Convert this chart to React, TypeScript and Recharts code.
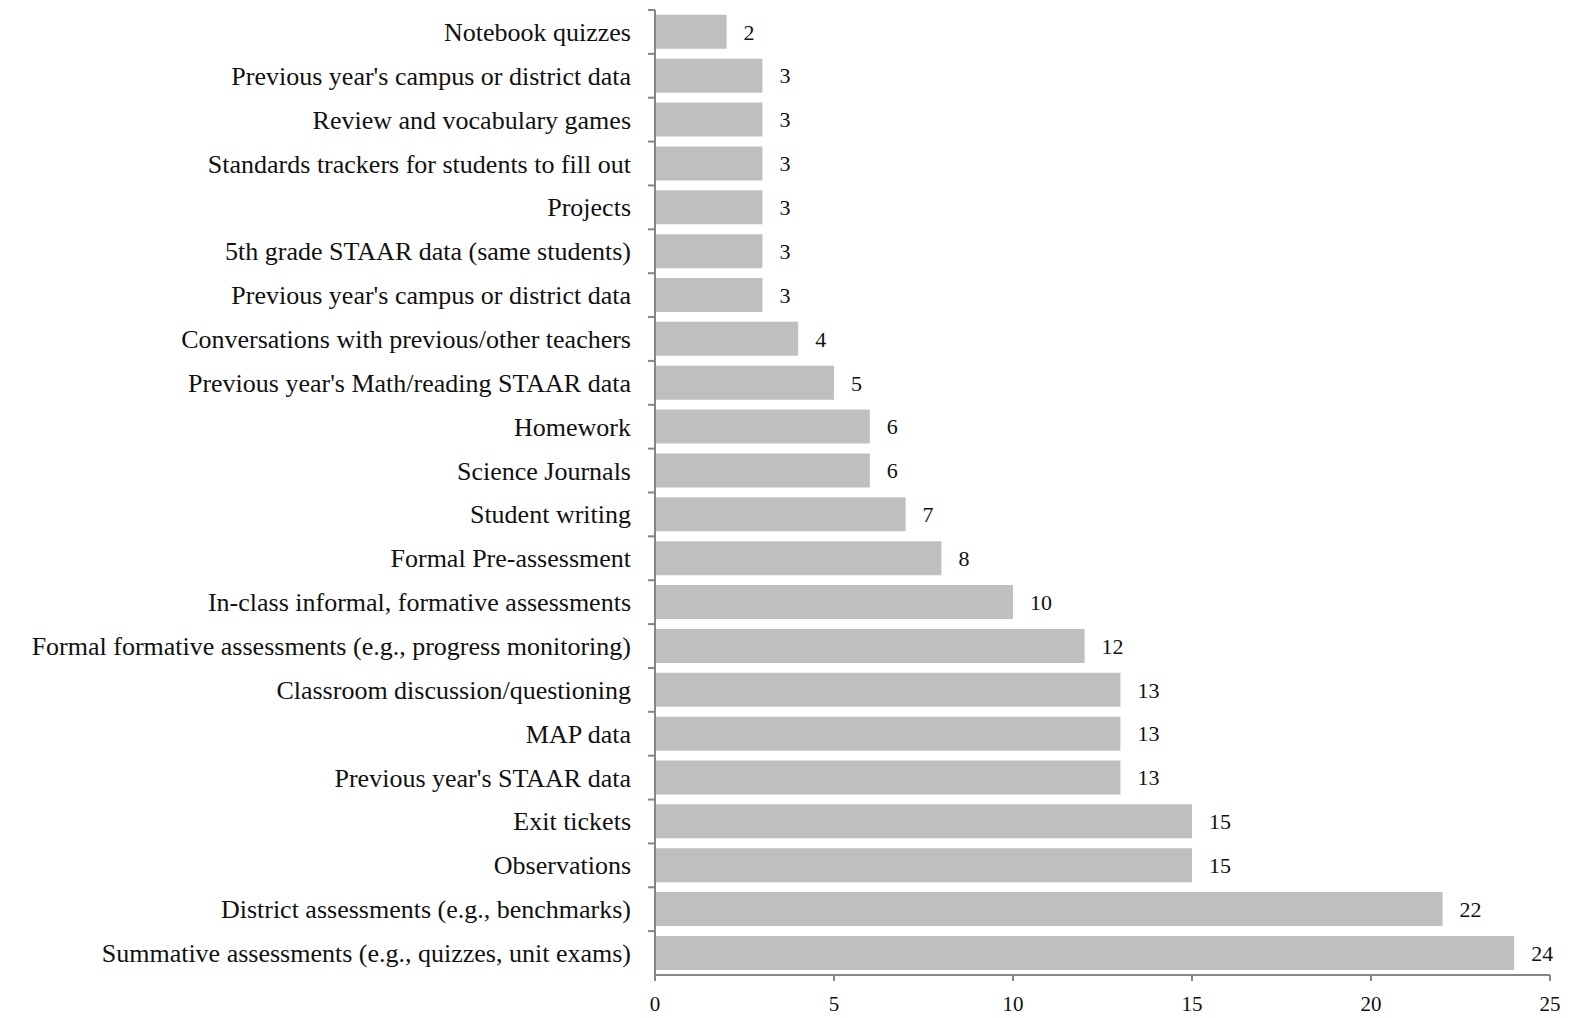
import React from "react";
import { BarChart, Bar, XAxis, YAxis, LabelList } from "recharts";

const categories: string[] = [
  "Notebook quizzes",
  "Previous year's campus or district data",
  "Review and vocabulary games",
  "Standards trackers for students to fill out",
  "Projects",
  "5th grade STAAR data (same students)",
  "Previous year's campus or district data ",
  "Conversations with previous/other teachers",
  "Previous year's Math/reading STAAR data",
  "Homework",
  "Science Journals",
  "Student writing",
  "Formal Pre-assessment",
  "In-class informal, formative assessments",
  "Formal formative assessments (e.g., progress monitoring)",
  "Classroom discussion/questioning",
  "MAP data",
  "Previous year's STAAR data",
  "Exit tickets",
  "Observations",
  "District assessments (e.g., benchmarks)",
  "Summative assessments (e.g., quizzes, unit exams)",
];

const counts: number[] = [2, 3, 3, 3, 3, 3, 3, 4, 5, 6, 6, 7, 8, 10, 12, 13, 13, 13, 15, 15, 22, 24];

const xTicks: number[] = [0, 5, 10, 15, 20, 25];

const data = categories.map((name, i) => ({ name, value: counts[i] }));

const FONT = "'Liberation Serif', 'Times New Roman', serif";
const AXIS = "#868686";
const TOP = 10;
const BOTTOM_AXIS = 43;
const HEIGHT = 1018;
const BAND = (HEIGHT - TOP - BOTTOM_AXIS) / categories.length;

const YTick = (props: any) => {
  const { y, payload } = props;
  return (
    <g>
      <line x1={648} x2={655} y1={y - BAND / 2} y2={y - BAND / 2} stroke={AXIS} strokeWidth={2} />
      <text x={631} y={y} dy={9} textAnchor="end" fontFamily={FONT} fontSize={26} fill="#111">
        {payload.value}
      </text>
    </g>
  );
};

export default function App() {
  return (
    <div style={{ position: "absolute", left: 0, top: 0, background: "#fff" }}>
      <BarChart
        width={1575}
        height={HEIGHT}
        data={data}
        layout="vertical"
        margin={{ top: TOP, right: 25, bottom: 0, left: 0 }}
        barCategoryGap="11%"
      >
        <XAxis
          type="number"
          domain={[0, 25]}
          ticks={xTicks}
          height={BOTTOM_AXIS}
          stroke={AXIS}
          strokeWidth={2}
          tickSize={6}
          tickLine={{ stroke: AXIS, strokeWidth: 2 }}
          tick={{ fontFamily: FONT, fontSize: 21, fill: "#111", dy: 13 }}
        />
        <YAxis
          type="category"
          dataKey="name"
          width={655}
          stroke={AXIS}
          strokeWidth={2}
          tickLine={false}
          tickMargin={0}
          tick={(p: any) => <YTick {...p} />}
          interval={0}
        />
        <Bar dataKey="value" fill="#bfbfbf" isAnimationActive={false}>
          <LabelList
            dataKey="value"
            position="right"
            offset={17}
            style={{ fontFamily: FONT, fontSize: 22, fill: "#111" }}
          />
        </Bar>
      </BarChart>
    </div>
  );
}
